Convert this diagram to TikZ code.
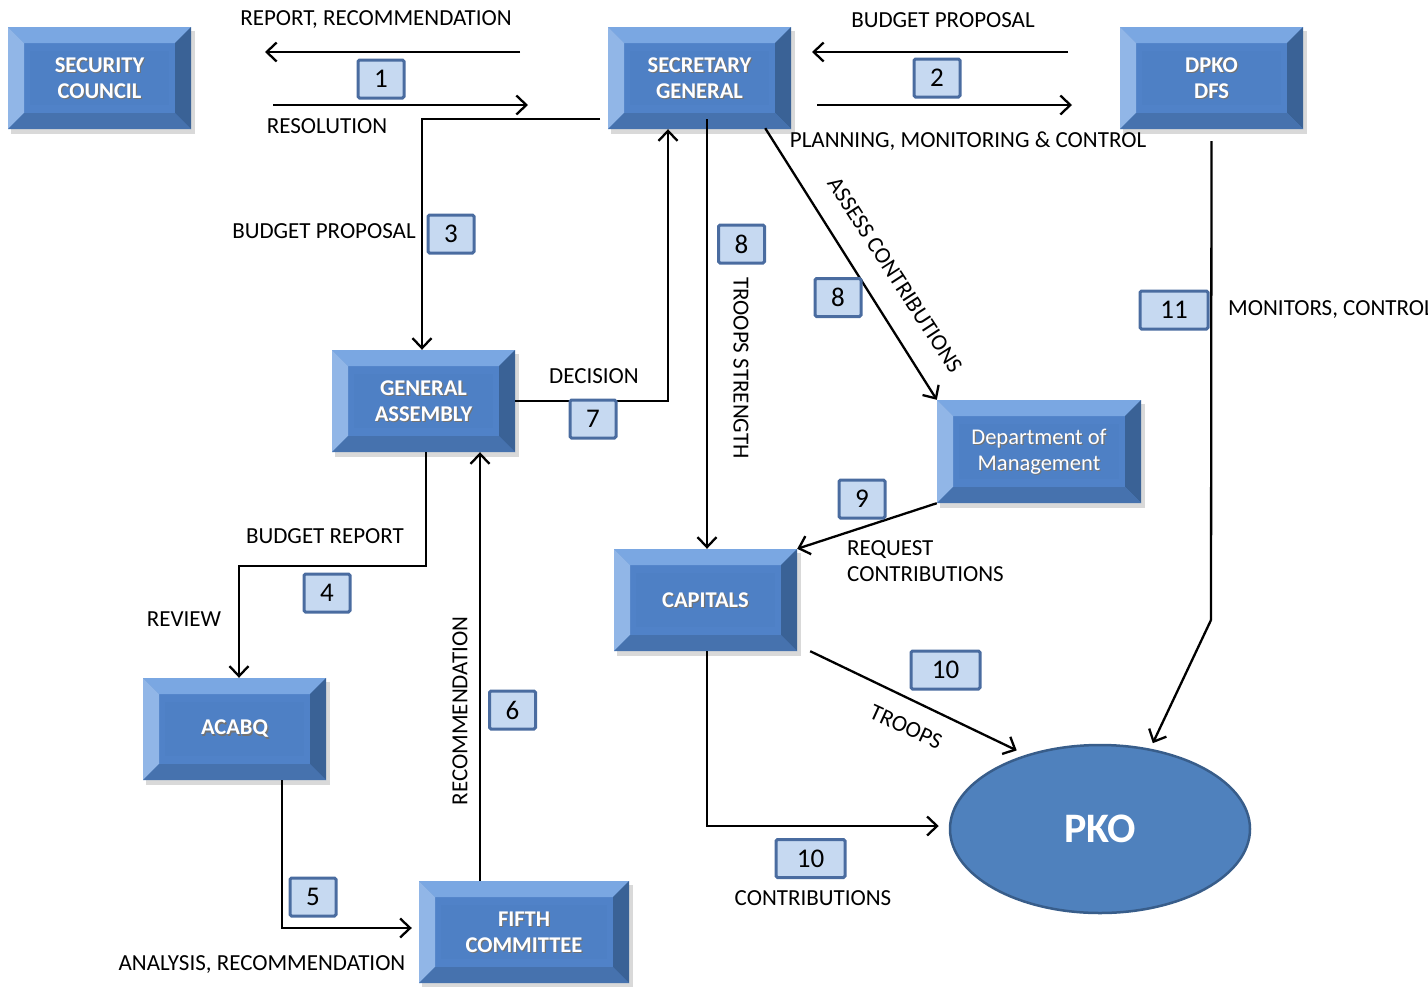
\documentclass[tikz,border=0pt]{standalone}
\usepackage{fontspec}
\setmainfont{Carlito}
\usetikzlibrary{arrows.meta,shapes.geometric,calc}
\definecolor{faceC}{RGB}{80,130,200}
\definecolor{innerC}{RGB}{78,128,197}
\definecolor{topC}{RGB}{122,167,226}
\definecolor{leftC}{RGB}{145,182,231}
\definecolor{rightC}{RGB}{58,98,150}
\definecolor{bottomC}{RGB}{70,114,174}
\definecolor{pkoC}{RGB}{79,129,189}
\definecolor{pkoB}{RGB}{56,93,138}
\definecolor{numFill}{RGB}{198,217,241}
\definecolor{numDraw}{RGB}{74,108,160}
\tikzset{
  boxtext/.style={text=white,font=\fontsize{22.5}{26}\selectfont\bfseries,align=center,inner sep=0pt},
  lbl/.style={font=\fontsize{23}{26}\selectfont,inner sep=0pt,text=black},
  numbox/.style={draw=numDraw,fill=numFill,line width=3pt,rounded corners=1.5pt,minimum width=46pt,minimum height=38pt,inner sep=0pt,font=\fontsize{27}{29}\selectfont},
  conn/.style={line width=2.3pt,draw=black,-{Straight Barb[length=10pt,width=19pt]}},
  plain/.style={line width=2.3pt,draw=black},
}
\newcommand\bevelbox[6]{%
  \fill[black!25,opacity=0.6] (#2+3,#3+4) rectangle (#4+4,#5+5);
  \fill[faceC] (#2,#3) rectangle (#4,#5);
  \fill[topC] (#2,#3) -- (#4,#3) -- (#4-16,#3+16) -- (#2+16,#3+16) -- cycle;
  \fill[leftC] (#2,#3) -- (#2+16,#3+16) -- (#2+16,#5-16) -- (#2,#5) -- cycle;
  \fill[rightC] (#4,#3) -- (#4,#5) -- (#4-16,#5-16) -- (#4-16,#3+16) -- cycle;
  \fill[bottomC] (#2,#5) -- (#4,#5) -- (#4-16,#5-16) -- (#2+16,#5-16) -- cycle;
  \fill[innerC] (#2+22,#3+24) rectangle (#4-22,#5-24);
  \node[boxtext,text=black!55] at ({(#2+#4)/2+1.2},{(#3+#5)/2+1.5}) {#6};
  \node[boxtext,minimum width={#4-#2},minimum height={#5-#3}] (#1) at ({(#2+#4)/2},{(#3+#5)/2}) {#6};
}
\begin{document}
\begin{tikzpicture}[x=1pt,y=-1pt]
\useasboundingbox (0,0) rectangle (1428,986);
\clip (0,0) rectangle (1428,986);
% boxes
\bevelbox{sc}{8}{27}{191}{129}{SECURITY\\COUNCIL}
\bevelbox{sg}{608}{27}{791}{129}{SECRETARY\\GENERAL}
\bevelbox{dpko}{1120}{27}{1303}{129}{DPKO\\DFS}
\bevelbox{ga}{332}{350}{515}{452}{GENERAL\\ASSEMBLY}
\bevelbox{dom}{937}{400}{1141}{503}{\mdseries Department of\\\mdseries Management}
\bevelbox{cap}{614}{549}{797}{651}{CAPITALS}
\bevelbox{acabq}{143}{678}{326}{780}{ACABQ}
\bevelbox{fifth}{419}{881}{629}{983}{FIFTH\\COMMITTEE}
\node[ellipse,draw=pkoB,line width=2.5pt,fill=pkoC,minimum width=300pt,minimum height=168pt,inner sep=0pt,text=white,font=\fontsize{42}{46}\selectfont\bfseries] (pko) at (1100,829) {PKO};

% free end coordinates
\coordinate (a1s) at (520,52); \coordinate (a1e) at (265,52);
\coordinate (b1s) at (273,105); \coordinate (b1e) at (528,105);
\coordinate (a2s) at (1068,52); \coordinate (a2e) at (812,52);
\coordinate (b2s) at (817,105); \coordinate (b2e) at (1072,105);
\coordinate (c3) at (600,119);
\coordinate (k4) at (426,566);
\coordinate (k11) at (1211,620);

% connectors
\draw[conn] (a1s) -- (a1e);
\draw[conn] (b1s) -- (b1e);
\draw[conn] (a2s) -- (a2e);
\draw[conn] (b2s) -- (b2e);
\draw[conn] (c3) -| ([xshift=-1.5pt]ga.north);
\draw[conn] (ga.east) -| ([xshift=-31.5pt]sg.south);
\draw[conn] ([xshift=7.5pt,yshift=10pt]sg.south) -- ([xshift=1.5pt]cap.north);
\draw[conn] ([xshift=-26pt,yshift=1pt]sg.south east) -- (dom.north west);
\draw[conn] (dom.south west) -- (cap.north east);
\draw[conn] ([xshift=2.5pt]ga.south) -- (k4) -| ([xshift=4.5pt]acabq.north);
\draw[conn] ([xshift=47.5pt]acabq.south) |- ([xshift=-7pt,yshift=4pt]fifth.west);
\draw[conn] ([xshift=-44pt]fifth.north) -- ([xshift=56.5pt]ga.south);
\draw[conn,shorten >=10pt] ([xshift=13pt]cap.south east) -- (pko.135);
\draw[conn] ([xshift=1.5pt]cap.south) |- ([xshift=-10pt,yshift=3pt]pko.west);
\draw[plain] ([yshift=-12pt]dpko.south) -- (k11);
\draw[conn,shorten >=6pt] (k11) -- (pko.58);

% labels
\node[lbl] at (376,20) {REPORT, RECOMMENDATION};
\node[lbl] at (327,126) {RESOLUTION};
\node[lbl] at (943,20) {BUDGET PROPOSAL};
\node[lbl] at (968,141) {PLANNING, MONITORING \& CONTROL};
\node[lbl] at (324,231) {BUDGET PROPOSAL};
\node[lbl] at (594,376) {DECISION};
\node[lbl] at (325,536) {BUDGET REPORT};
\node[lbl] at (184,619) {REVIEW};
\node[lbl,anchor=west,align=left] at (847,561) {REQUEST\\CONTRIBUTIONS};
\node[lbl] at (262,964) {ANALYSIS, RECOMMENDATION};
\node[lbl] at (813,898) {CONTRIBUTIONS};
\node[lbl,anchor=west] at (1228,310) {MONITORS, CONTROL};
\node[lbl,rotate=-90] at (741,368) {TROOPS STRENGTH};
\node[lbl,rotate=90] at (460,711) {RECOMMENDATION};
\node[lbl,rotate=-57] at (895,275) {ASSESS CONTRIBUTIONS};
\node[lbl,rotate=-24.5] at (906,727) {TROOPS};

% number boxes
\node[numbox] (n1) at (381,79) {1};
\node[numbox] (n2) at (937,78) {2};
\node[numbox] (n3) at (451,234) {3};
\node[numbox] (n7) at (593,419) {7};
\node[numbox] (n8a) at (741.5,244) {8};
\node[numbox] (n8b) at (838,297.5) {8};
\node[numbox] (n9) at (862,499) {9};
\node[numbox] (n4) at (327,593) {4};
\node[numbox] (n5) at (313,897) {5};
\node[numbox] (n6) at (512.5,710) {6};
\node[numbox,minimum width=69pt] (n10a) at (945.5,670) {10};
\node[numbox,minimum width=69pt] (n10b) at (810.5,858.5) {10};
\node[numbox,minimum width=68pt] (n11) at (1174,310) {11};
\end{tikzpicture}
\end{document}
